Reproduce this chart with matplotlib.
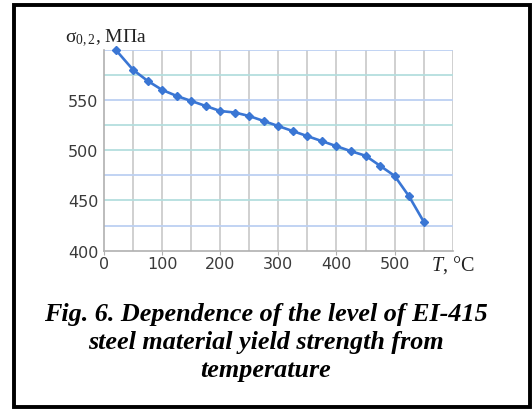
"""
Yield strength of EI-415 steel vs temperature (Fig. 6)
"""
import matplotlib.pyplot as plt
from matplotlib.patches import Rectangle

# data
temperature = [20, 50, 75, 100, 125, 150, 175, 200, 225, 250, 275,
               300, 325, 350, 375, 400, 425, 450, 475, 500, 525, 550]
sigma_02 = [600, 580, 569, 560, 554, 549, 544, 539, 537.5, 534, 529,
            524, 519, 514, 509, 504, 499, 494.5, 484.5, 474.5, 454, 429]
x_ticks = [0, 100, 200, 300, 400, 500]
y_ticks = [400, 450, 500, 550]
caption = ["Fig. 6. Dependence of the level of EI-415",
           "steel material yield strength from",
           "temperature"]

plt.rcParams['mathtext.fontset'] = 'custom'
plt.rcParams['mathtext.rm'] = 'Liberation Serif'
plt.rcParams['mathtext.it'] = 'Liberation Serif:italic'

fig = plt.figure(figsize=(5.32, 4.14), dpi=100)
fig.patch.set_facecolor('white')

# black frame around the figure
fig.patches.append(Rectangle((14 / 532, 6 / 414), 516 / 532, 402 / 414,
                             transform=fig.transFigure, fill=False,
                             edgecolor='black', linewidth=2.8))

ax = fig.add_axes([104 / 532, 162.3 / 414, 348.7 / 532, 201 / 414])
ax.set_xlim(0, 600)
ax.set_ylim(400, 600)

# grid
for x in range(50, 601, 50):
    ax.axvline(x, color='#c4c4c4', linewidth=1.1, zorder=1)
h_colors = {425: '#bcd0f2', 450: '#b4dede', 475: '#bcd0f2', 500: '#b4dede',
            525: '#b4dede', 550: '#bcd0f2', 575: '#b4dede', 600: '#bcd0f2'}
for y, c in h_colors.items():
    ax.axhline(y, color=c, linewidth=1.3, zorder=1)

for side in ['top', 'right']:
    ax.spines[side].set_visible(False)
for side in ['left', 'bottom']:
    ax.spines[side].set_color('#b0b0b0')
    ax.spines[side].set_linewidth(1.2)

ax.plot(temperature, sigma_02, color='#3a76d4', linewidth=1.9,
        marker='D', markersize=3.6, zorder=3, clip_on=False)

ax.set_xticks(x_ticks)
ax.set_yticks(y_ticks)
ax.tick_params(axis='x', length=3, color='#b0b0b0', labelsize=11.5,
               labelcolor='#3a3a3a', pad=1)
ax.tick_params(axis='y', length=0, labelsize=11.5, labelcolor='#3a3a3a', pad=4)

fig.text(65 / 532, 1 - 38 / 414, 'σ$_{0,2}$, МПа',
         ha='left', va='center', fontsize=14, family='Liberation Serif',
         color='#222222')
ax.text(1.0, -0.01, r'$T$, °C', transform=ax.transAxes,
        ha='center', va='top', fontsize=14.5, family='Liberation Serif',
        color='#222222')

for i, line in enumerate(caption):
    fig.text(266 / 532, 1 - (314 + 28.5 * i) / 414, line, ha='center',
             va='center', fontsize=18.8, family='Liberation Serif',
             style='italic', weight='bold')

plt.savefig('out.png', dpi=100)
